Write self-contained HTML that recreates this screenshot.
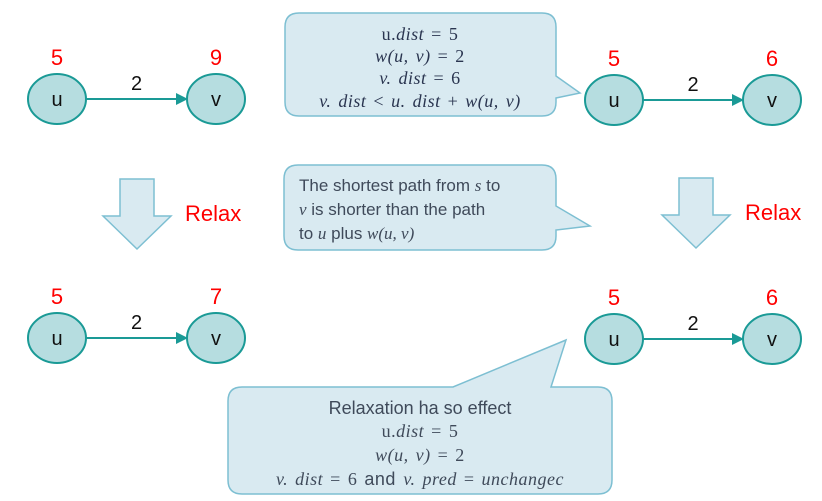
<!DOCTYPE html>
<html><head><meta charset="utf-8"><style>
html,body{margin:0;padding:0;background:#fff;}
svg{display:block;font-family:"Liberation Sans",sans-serif;}
.m{font-family:"Liberation Serif",serif;font-style:italic;}
.mt{font-family:"Liberation Serif",serif;font-size:18px;word-spacing:2px;letter-spacing:0.5px;}
</style></head><body>
<svg width="822" height="501" viewBox="0 0 822 501">
<defs><marker id="ah" markerWidth="6" markerHeight="6" refX="5" refY="3" orient="auto"><path d="M0,0 L6,3 L0,6 z" fill="#1a9a96"/></marker></defs>
<g fill="#d9eaf1" stroke="#7dbfd2" stroke-width="1.5">
<path d="M299,13 H542 Q556,13 556,27 V76 L580,93 L556,98 V102 Q556,116 542,116 H299 Q285,116 285,102 V27 Q285,13 299,13 Z"/>
<path d="M298,165 H542 Q556,165 556,179 V206 L590,226 L556,230 V236 Q556,250 542,250 H298 Q284,250 284,236 V179 Q284,165 298,165 Z"/>
<path d="M242,387 H453 L566,340 L551,387 H598 Q612,387 612,401 V480 Q612,494 598,494 H242 Q228,494 228,480 V401 Q228,387 242,387 Z"/>
<path d="M120,179 H154 V216 H171 L137,249 L103,216 H120 Z"/>
<path d="M679,178 H713 V215 H730 L696,248 L662,215 H679 Z"/>
</g>
<g fill="#2a3550" text-anchor="middle" class="mt">
<text x="420" y="40">u.<tspan class="m">dist</tspan> = 5</text>
<text x="420" y="62"><tspan class="m">w(u, v)</tspan> = 2</text>
<text x="420" y="84"><tspan class="m">v. dist</tspan> = 6</text>
<text x="420" y="107"><tspan class="m">v. dist</tspan> &lt; <tspan class="m">u. dist</tspan> + <tspan class="m">w(u, v)</tspan></text>
</g>
<g font-size="17" fill="#3f4a5a">
<text x="299" y="191">The shortest path from <tspan class="m">s</tspan> to</text>
<text x="299" y="215"><tspan class="m">v</tspan> is shorter than the path</text>
<text x="299" y="239">to <tspan class="m">u</tspan> plus <tspan class="m">w(u, v)</tspan></text>
</g>
<g fill="#3f4a5a" text-anchor="middle">
<text x="420" y="414" font-size="18">Relaxation ha so effect</text>
<text x="420" y="437" class="mt">u.<tspan class="m">dist</tspan> = 5</text>
<text x="420" y="461" class="mt"><tspan class="m">w(u, v)</tspan> = 2</text>
<text x="420" y="485" class="mt"><tspan class="m">v. dist</tspan> = 6 <tspan font-family="Liberation Sans" font-size="18">  and </tspan><tspan class="m">v. pred</tspan> = <tspan class="m">unchangec</tspan></text>
</g>
<g font-size="22" fill="#ff0000">
<text x="185" y="221">Relax</text>
<text x="745" y="220">Relax</text>
</g>
<g id="graphs"></g>
</svg>
<script>
const graphs=[{ux:57,vx:216,y:99,du:"5",dv:"9"},{ux:614,vx:772,y:100,du:"5",dv:"6"},{ux:57,vx:216,y:338,du:"5",dv:"7"},{ux:614,vx:772,y:339,du:"5",dv:"6"}];
const weight="2";
const g=document.getElementById('graphs');
const NS="http://www.w3.org/2000/svg";
function mk(t,a,txt){const e=document.createElementNS(NS,t);for(const k in a)e.setAttribute(k,a[k]);if(txt)e.textContent=txt;g.appendChild(e);return e;}
graphs.forEach((d,i)=>{
 const l=mk('line',{x1:d.ux+29,y1:d.y,x2:d.vx-30,y2:d.y,stroke:'#1a9a96','stroke-width':2,'marker-end':'url(#ah)'});
 
 
 [[d.ux,'u',d.du],[d.vx,'v',d.dv]].forEach(n=>{
  const c=mk('ellipse',{cx:n[0],cy:d.y,rx:29,ry:25,fill:'#b6dde0',stroke:'#1a9a96','stroke-width':2});
  
  
  const t=mk('text',{x:n[0],y:d.y+7,'text-anchor':'middle','font-size':20,fill:'#111'},n[1]);
  
  
  const r=mk('text',{x:n[0],y:d.y-34,'text-anchor':'middle','font-size':22,fill:'#ff0000'},n[2]);
  
  
 });
 const w=mk('text',{x:(d.ux+d.vx)/2,y:d.y-9,'text-anchor':'middle','font-size':20,fill:'#111'},weight);
 
 
});
</script>
</body></html>
